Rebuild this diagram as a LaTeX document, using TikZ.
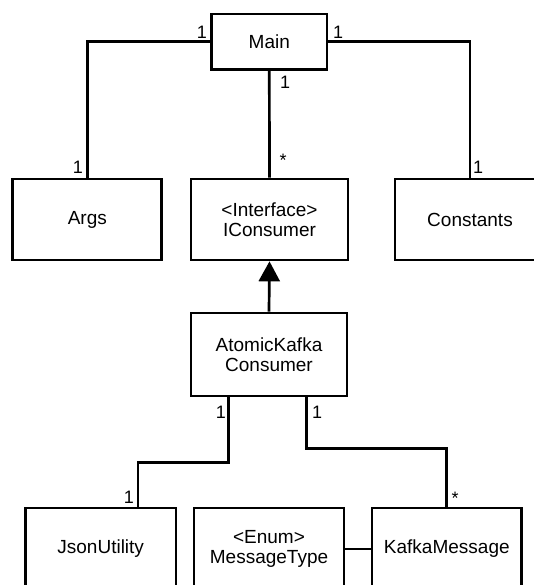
\documentclass[tikz,border=0pt]{standalone}
\usepackage{fontspec}
\setmainfont{Liberation Sans}
\usetikzlibrary{arrows.meta}
\begin{document}
\begin{tikzpicture}[x=1pt,y=-1pt,
  cls/.style={draw,line width=2.7pt,fill=white,align=center,inner sep=0pt,
    font=\fontsize{19}{20}\selectfont},
  link/.style={line width=2.7pt},
  mult/.style={inner sep=0pt,font=\fontsize{18}{18}\selectfont}]
\useasboundingbox (0,0) rectangle (534,585);
\clip (0,0) rectangle (534,585);
% classes
\node[cls,minimum width=115.5pt,minimum height=55.5pt] (main) at (269.3,41.8) {Main};
\node[cls,minimum width=149pt,minimum height=81pt] (args) at (87.3,219.5) {Args};
\node[cls,minimum width=157pt,minimum height=81pt] (icons) at (269.5,219.5) {<Interface>\\IConsumer};
\node[cls,minimum width=150pt,minimum height=81pt] (consts) at (470,219.5) {Constants};
\node[cls,minimum width=156pt,minimum height=83pt] (akc) at (269,354.5) {AtomicKafka\\Consumer};
\node[cls,minimum width=150.5pt,minimum height=82pt] (json) at (100.7,549) {JsonUtility};
\node[cls,minimum width=150pt,minimum height=82pt] (mtype) at (269,549) {<Enum>\\MessageType};
\node[cls,minimum width=149.6pt,minimum height=82pt] (kmsg) at (446.8,549) {KafkaMessage};
% associations
\draw[link] (main.west) -| (args.north);
\draw[link] (main.east) -| (consts.north);
\draw[link] (main.south) -- (icons.north);
\draw[link,-{Triangle[width=21pt,length=20pt]}] (akc.north) -- (icons.south);
\draw[link] ([xshift=39pt]akc.south west) -- ++(0,65) -| ([xshift=37.3pt]json.north);
\draw[link] ([xshift=116.5pt]akc.south west) -- ++(0,51) -| (kmsg.north);
\draw[link] (mtype.east) -- (kmsg.west);
% multiplicities
\node[mult] (m1) at (202,32) {1};
\node[mult] (m2) at (338,32) {1};
\node[mult] (m3) at (285,82) {1};
\node[mult] (m4) at (283,160) {*};
\node[mult] (m5) at (78,167) {1};
\node[mult] (m6) at (478,167) {1};
\node[mult] (m7) at (221,412) {1};
\node[mult] (m8) at (317,412) {1};
\node[mult] (m9) at (129,497) {1};
\node[mult] (m10) at (455,498) {*};
\end{tikzpicture}
\end{document}
